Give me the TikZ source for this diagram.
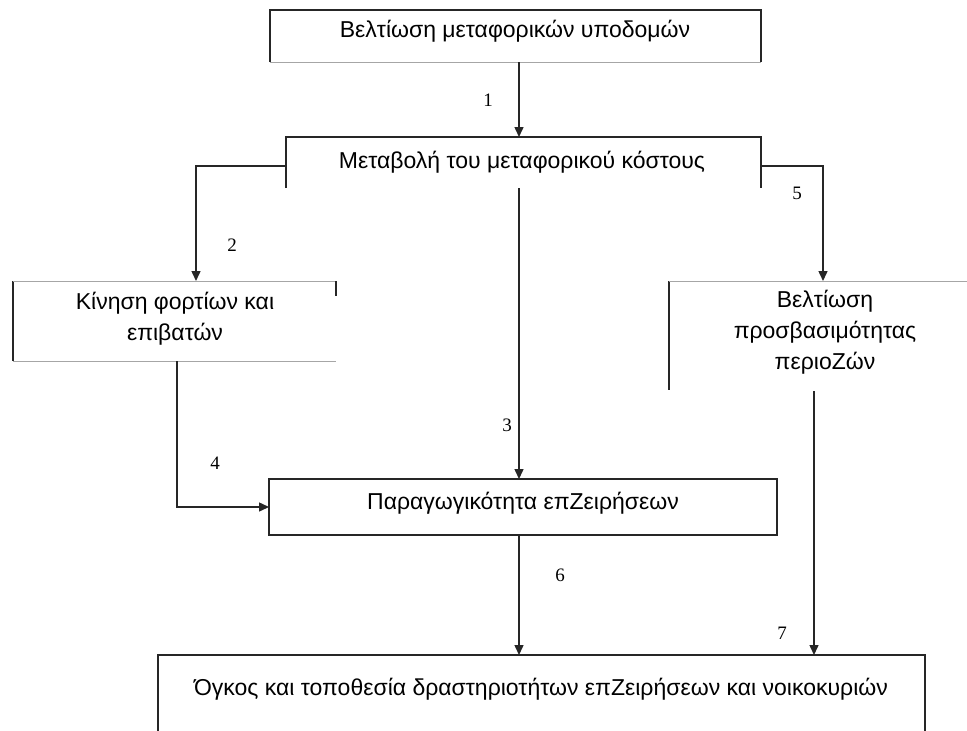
\documentclass[tikz,border=0pt]{standalone}
\usepackage{fontspec}
\setmainfont{Liberation Sans}
\newfontfamily\numfont{Liberation Serif}
\usetikzlibrary{arrows.meta}
\begin{document}
\begin{tikzpicture}[x=1pt,y=-1pt,
  dark/.style={line width=1.8pt,black!85},
  light/.style={line width=1pt,black!35},
  conn/.style={line width=1.5pt,black!85,-{Triangle[length=10pt,width=9pt]}},
  txt/.style={font=\fontsize{23}{31}\selectfont,align=center,inner sep=0pt},
  num/.style={font=\numfont\fontsize{19}{19}\selectfont,inner sep=0pt}]
\useasboundingbox (0,0) rectangle (967,731);
% box geometry
\coordinate (b1s) at (519,62);
\coordinate (b2n) at (519,137);
\coordinate (b2s) at (519,188);
\coordinate (b2w) at (286,166);
\coordinate (b2e) at (761,166);
\coordinate (kn) at (196,281);
\coordinate (ks) at (177,361);
\coordinate (rn) at (823,281);
\coordinate (rs) at (814,391);
\coordinate (pn) at (519,479);
\coordinate (pw) at (269,507);
\coordinate (ps) at (519,535);
\coordinate (on6) at (519,655);
\coordinate (on7) at (814,655);
% box 1
\draw[dark] (270,62) -- (270,10) -- (761,10) -- (761,62);
\draw[light] (270,62) -- (761,62);
\node[txt] (t1) at (515,31) {Βελτίωση μεταφορικών υποδομών};
% box 2
\draw[dark] (286,188) -- (286,137) -- (761,137) -- (761,188);
\node[txt] (t2) at (522,162) {Μεταβολή του μεταφορικού κόστους};
% box Kinisi
\draw[dark] (13,281) -- (13,361);
\draw[light] (13,281) -- (336,281);
\draw[light] (13,361) -- (336,361);
\draw[dark] (336,281) -- (336,296);
\node[txt] (t3) at (175,319) {Κίνηση φορτίων και\\επιβατών};
% box Veltiosi prosvasimotitas
\draw[dark] (669,281) -- (669,390);
\draw[light] (669,281) -- (967,281);
\node[txt,text width=300pt] (t4) at (825,332) {Βελτίωση\\προσβασιμότητας\\περιοΖών};
% box Paragogikotita
\draw[dark] (777,479) -- (269,479) -- (269,535) -- (777,535) -- cycle;
\node[txt] (t5) at (523,503) {Παραγωγικότητα επΖειρήσεων};
% bottom box
\draw[dark] (158,731) -- (158,655) -- (925,655) -- (925,731);
\node[txt] (t6) at (541,689) {Όγκος και τοποθεσία δραστηριοτήτων επΖειρήσεων και νοικοκυριών};
% connectors
\draw[conn] (b1s) -- (b2n);
\draw[conn] (b2w) -| (kn);
\draw[conn] (b2e) -| (rn);
\draw[conn] (b2s) -- (pn);
\draw[conn] (ks) |- (pw);
\draw[conn] (ps) -- (on6);
\draw[conn] (rs) -- (on7);
% labels
\node[num] (n1) at (488,100) {1};
\node[num] (n2) at (232,245) {2};
\node[num] (n3) at (507,425) {3};
\node[num] (n4) at (215,463) {4};
\node[num] (n5) at (797,193) {5};
\node[num] (n6) at (560,575) {6};
\node[num] (n7) at (782,633) {7};
\end{tikzpicture}
\end{document}
